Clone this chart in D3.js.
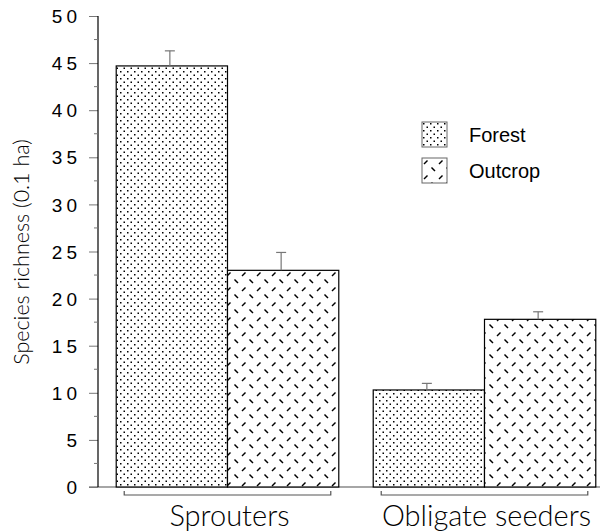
<!DOCTYPE html>
<html>
<head>
<meta charset="utf-8">
<script src="https://cdn.jsdelivr.net/npm/d3@7"></script>
<style>
  body { margin: 0; background: #fff; }
  svg { display: block; }
</style>
</head>
<body>
<div class="svg"></div>
<script>
// data
var groups = ['Sprouters', 'Obligate seeders'];
var series = ['Forest', 'Outcrop'];
var forestMeans = [44.7, 10.3];
var forestErr = [1.6, 0.7];
var outcropMeans = [23.0, 17.8];
var outcropErr = [1.9, 0.8];
var yTicks = [0, 5, 10, 15, 20, 25, 30, 35, 40, 45, 50];

var w = 605, h = 532;

var rows = [];
groups.forEach(function (g, i) {
  rows.push({group: g, series: 'Forest', mean: forestMeans[i], err: forestErr[i]});
  rows.push({group: g, series: 'Outcrop', mean: outcropMeans[i], err: outcropErr[i]});
});

var svg = d3.select('div.svg').append('svg')
  .attr('width', w)
  .attr('height', h);

// patterns
var defs = svg.append('defs');
var pDots = defs.append('pattern')
  .attr('id', 'pat-forest')
  .attr('patternUnits', 'userSpaceOnUse')
  .attr('width', 7).attr('height', 7);
pDots.append('rect').attr('width', 7).attr('height', 7).attr('fill', '#fff');
[[1, 1], [4.5, 4.5]].forEach(function (p) {
  pDots.append('rect').attr('x', p[0]).attr('y', p[1])
    .attr('width', 1.5).attr('height', 1.5).attr('fill', '#000');
});

var ps = 15;
var pDash = defs.append('pattern')
  .attr('id', 'pat-outcrop')
  .attr('patternUnits', 'userSpaceOnUse')
  .attr('width', ps).attr('height', ps);
pDash.append('rect').attr('width', ps).attr('height', ps).attr('fill', '#fff');
pDash.append('line') // "/"
  .attr('x1', 2).attr('y1', 6).attr('x2', 5.5).attr('y2', 2.5)
  .attr('stroke', '#000').attr('stroke-width', 1.5);
pDash.append('line') // "\"
  .attr('x1', 9.5).attr('y1', 9.5).attr('x2', 13).attr('y2', 13)
  .attr('stroke', '#000').attr('stroke-width', 1.5);

var fills = {Forest: 'url(#pat-forest)', Outcrop: 'url(#pat-outcrop)'};

// scales
var y = d3.scaleLinear().domain([0, 50]).range([487, 16]);
var x0 = d3.scaleBand().domain(groups).range([99, 613])
  .paddingInner(0.134).paddingOuter(0.067);
var x1 = d3.scaleBand().domain(series).range([0, x0.bandwidth()]);

// baseline (gray, runs across)
svg.append('line')
  .attr('x1', 89).attr('x2', 600)
  .attr('y1', y(0)).attr('y2', y(0))
  .attr('stroke', '#888').attr('stroke-width', 1.5);

// y axis
var yAxis = d3.axisLeft(y).tickValues(yTicks).tickSize(9).tickPadding(8);
var gy = svg.append('g').attr('transform', 'translate(98,0)').call(yAxis);
gy.select('.domain').remove();
gy.append('line').attr('x1', 0).attr('x2', 0)
  .attr('y1', y(50)).attr('y2', y(0))
  .attr('stroke', '#000').attr('stroke-width', 1.2);
gy.selectAll('.tick line').attr('stroke', '#777');
gy.selectAll('.tick text')
  .attr('fill', '#000')
  .style('font-family', 'Liberation Sans, Arial, sans-serif')
  .style('font-size', '19px')
  .style('letter-spacing', '4px')
  .attr('dy', '0.35em');
// minor ticks
var minor = d3.range(2.5, 50, 5);
gy.selectAll('.minor').data(minor).enter().append('line')
  .attr('class', 'minor')
  .attr('x1', -4).attr('x2', 0)
  .attr('y1', function (d) { return y(d); })
  .attr('y2', function (d) { return y(d); })
  .attr('stroke', '#777');

// bars
var bars = svg.append('g').selectAll('g.bar').data(rows).enter().append('g');
bars.append('rect')
  .attr('x', function (d) { return x0(d.group) + x1(d.series); })
  .attr('y', function (d) { return y(d.mean); })
  .attr('width', x1.bandwidth())
  .attr('height', function (d) { return y(0) - y(d.mean); })
  .attr('fill', function (d) { return fills[d.series]; })
  .attr('stroke', '#000')
  .attr('stroke-width', 1.2);

// error bars (upper only)
bars.append('line')
  .attr('x1', function (d) { return x0(d.group) + x1(d.series) + x1.bandwidth() / 2 - 2; })
  .attr('x2', function (d) { return x0(d.group) + x1(d.series) + x1.bandwidth() / 2 - 2; })
  .attr('y1', function (d) { return y(d.mean); })
  .attr('y2', function (d) { return y(d.mean + d.err); })
  .attr('stroke', '#777').attr('stroke-width', 1.2);
bars.append('line')
  .attr('x1', function (d) { return x0(d.group) + x1(d.series) + x1.bandwidth() / 2 - 7; })
  .attr('x2', function (d) { return x0(d.group) + x1(d.series) + x1.bandwidth() / 2 + 3; })
  .attr('y1', function (d) { return y(d.mean + d.err); })
  .attr('y2', function (d) { return y(d.mean + d.err); })
  .attr('stroke', '#777').attr('stroke-width', 1.2);

// group brackets + labels
var gl = svg.append('g').selectAll('g').data(groups).enter().append('g');
gl.append('path')
  .attr('d', function (g) {
    var a = x0(g) + 8, b = x0(g) + x0.bandwidth() - 8;
    return 'M' + a + ',491V495H' + b + 'V491';
  })
  .attr('fill', 'none').attr('stroke', '#555').attr('stroke-width', 1.2);
gl.append('text')
  .attr('x', function (g) { return x0(g) + x0.bandwidth() / 2 + 2; })
  .attr('y', 526)
  .attr('text-anchor', 'middle')
  .style('font-family', 'Lato, sans-serif')
  .style('font-weight', 300)
  .style('font-size', '29px')
  .attr('fill', '#000')
  .text(function (g) { return g; });

// y label
svg.append('text')
  .attr('transform', 'translate(29,' + 252 + ') rotate(-90)')
  .attr('text-anchor', 'middle')
  .style('font-family', 'Lato, sans-serif')
  .style('font-weight', 300)
  .style('font-size', '21.5px')
  .attr('fill', '#000')
  .text('Species richness (0.1 ha)');

// legend
var lg = svg.append('g').selectAll('g').data(series).enter().append('g')
  .attr('transform', function (d, i) { return 'translate(422,' + (122 + i * 36) + ')'; });
lg.append('rect')
  .attr('width', 25).attr('height', 25)
  .attr('fill', function (d) { return fills[d]; })
  .attr('stroke', '#666').attr('stroke-width', 1);
lg.append('text')
  .attr('x', 47).attr('y', 20)
  .style('font-family', 'Liberation Sans, Arial, sans-serif')
  .style('font-size', '20px')
  .attr('fill', '#000')
  .text(function (d) { return d; });
</script>
</body>
</html>
